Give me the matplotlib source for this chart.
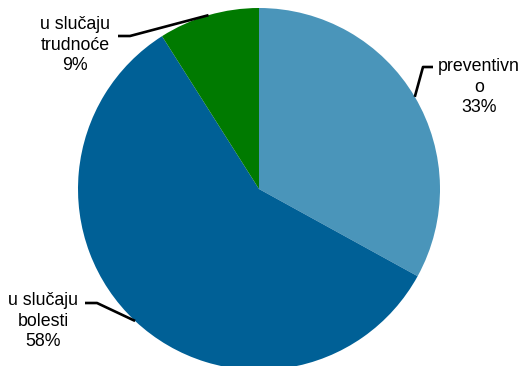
import numpy as np
import matplotlib
matplotlib.use("Agg")
import matplotlib.pyplot as plt

labels = ["preventivn\no", "u slučaju\nbolesti", "u slučaju\ntrudnoće"]
values = [33, 58, 9]
colors = ["#4A95BA", "#006096", "#007A00"]

H = 366
# label text centres and elbow points (pixel coords, y from top)
text_pos = [(479, 87), (43, 321), (75, 45)]
elbows = [(423, 67), (97, 303), (130, 36)]
line_ends = [(433, 67), (85, 303), (118, 36)]

plt.rcParams['font.family'] = ['Liberation Sans', 'DejaVu Sans']

fig = plt.figure(figsize=(5.25, 3.66), dpi=100)
ax = fig.add_axes([0, 0, 1, 1])

center = (259, H - 189)
radius = 181
wedges, _ = ax.pie(values, colors=colors, startangle=90, counterclock=False,
                   center=center, radius=radius, frame=True)
ax.set_xlim(0, 525)
ax.set_ylim(0, H)
ax.axis('off')

for w, lab, v, tp, el, le in zip(wedges, labels, values, text_pos, elbows, line_ends):
    mid = np.deg2rad((w.theta1 + w.theta2) / 2)
    ex = center[0] + radius * np.cos(mid)
    ey = center[1] + radius * np.sin(mid)
    ax.plot([ex, el[0], le[0]], [ey, H - el[1], H - le[1]], color='black', lw=1.9,
            solid_capstyle='butt')
    ax.text(tp[0], H - tp[1], f"{lab}\n{v}%", ha='center', va='center',
            fontsize=12.8, linespacing=1.25)

fig.savefig("out.png", dpi=100)
